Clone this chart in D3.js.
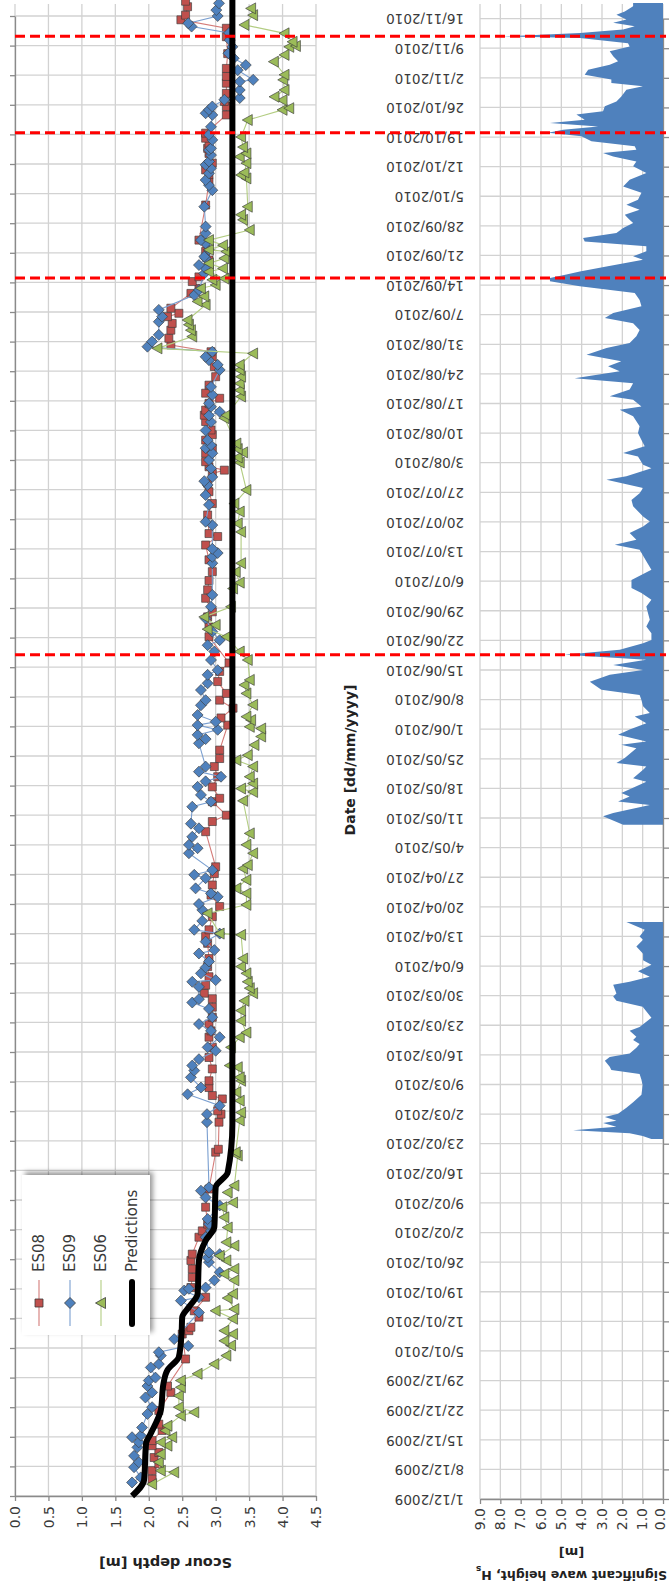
<!DOCTYPE html>
<html>
<head>
<meta charset="utf-8">
<script src="https://cdn.jsdelivr.net/npm/d3@7"></script>
<style>
    body { margin: 0; background: #fff; }
    svg { display: block; font-family: "DejaVu Sans", sans-serif; }
</style>
</head>
<body>
<svg id="chart" width="669" height="1587"></svg>
<script>
// all dates are day offsets counted from 1/12/2009
// scour series: [day, scour depth m]
var es08 = [[4,2.05],[6,2.05],[7.6,2.15],[9.1,2.08],[10.3,2.15],[11.9,2.05],[13.1,2.05],[15.5,2.2],[17,2.15],[20.2,2.15],[24.5,2.33],[26,2.28],[32.4,2.55],[38.3,2.5],[39.1,2.6],[39.9,2.63],[42.3,2.75],[43.8,2.68],[47,2.85],[49.3,2.63],[51.7,2.65],[53.7,2.65],[55.7,2.63],[57.2,2.65],[61.2,2.75],[62.7,2.8],[64.3,2.88],[68.3,2.85],[72.6,2.9],[81.3,3.0],[82,3.04],[88.4,3.05],[90.3,3.08],[91.1,3.03],[93.9,3.1],[94.7,2.95],[96.6,2.9],[98.2,2.9],[101,2.95],[103.7,2.9],[106.1,2.95],[108.5,2.9],[110,2.93],[111.6,2.9],[113.2,2.95],[115.6,2.95],[117.6,2.95],[118.9,2.83],[120.8,2.85],[122.8,2.9],[125.2,2.88],[127.1,2.9],[130.7,2.88],[132.3,2.85],[133.9,2.9],[137,2.95],[139.4,3.06],[142.1,2.93],[144.5,2.95],[147.2,2.98],[148.8,3.0],[157.1,2.85],[159.5,2.95],[161,3.16],[164.2,2.95],[165,3.06],[167.7,2.95],[170.1,3.03],[172.5,2.98],[174.4,3.06],[176.4,3.06],[182.3,3.18],[184,3.08],[186.3,3.26],[188.2,3.06],[189.8,3.16],[192.6,3.03],[195,3.06],[197,3.2],[203.2,2.9],[205.5,2.9],[207.9,2.88],[209.1,2.95],[212.3,2.85],[214.3,2.88],[216.5,2.9],[218.6,2.95],[221.4,2.9],[224.9,2.85],[226.9,3.03],[227.6,2.9],[232,2.88],[234.7,2.95],[237.5,2.9],[239.5,2.88],[241.8,2.95],[242.6,3.13],[243.4,2.9],[244.6,2.85],[246.6,2.85],[247.8,2.95],[249.7,2.85],[251,2.95],[252.1,2.93],[254.1,2.85],[255.6,2.83],[256.8,2.85],[258.4,2.9],[259.6,3.06],[260.8,2.85],[262.7,2.9],[264.7,3.0],[267.1,2.98],[269.4,2.95],[270.6,2.93],[272.2,2.33],[273.8,2.3],[275.7,2.33],[277.3,2.35],[278.9,2.28],[279.7,2.45],[280.9,2.33],[284.4,2.63],[285.6,2.75],[287.2,2.65],[288.3,2.75],[292.3,2.9],[294.3,2.85],[297,2.75],[305.3,2.85],[310.8,2.9],[312.5,2.9],[313.6,2.85],[315.2,2.95],[317.5,2.9],[318.7,2.88],[319.9,2.9],[321.1,2.85],[322.3,2.85],[326.6,3.16],[328.6,3.16],[329.8,3.13],[331.7,3.16],[334.1,3.16],[335.7,3.16],[337.6,3.16],[341.1,3.18],[345.1,3.16],[347.1,3.16],[349.1,2.48],[350.2,2.55],[352.2,2.58],[353.5,2.55]];

var es09 = [[3.2,1.75],[4.4,1.88],[6.8,1.78],[8,1.85],[9.5,1.78],[11.5,1.83],[12.7,1.85],[13.9,1.75],[14.3,1.88],[16.2,1.9],[19.4,1.98],[21,2.05],[23.3,1.95],[24.5,2.05],[26,1.98],[27.3,2.0],[28,2.1],[30.4,2.03],[31.2,2.15],[33.2,2.18],[34,2.15],[35.5,2.59],[37.1,2.38],[43.4,2.75],[46.2,2.48],[47,2.75],[48.6,2.53],[49,2.6],[49.3,2.85],[51,2.98],[52.9,3.06],[55.3,2.9],[56.4,2.88],[57.2,3.06],[57.6,2.9],[61.2,2.85],[62.7,2.93],[64.3,2.9],[65.5,2.88],[68.7,3.06],[70.6,2.85],[72.2,2.78],[73,2.9],[88.4,2.87],[90.3,2.87],[92.3,3.06],[95,2.58],[96.6,2.78],[99,2.63],[100.6,2.68],[101.8,2.65],[103.3,2.75],[105.3,3.0],[106.1,2.88],[108.5,3.06],[110,2.93],[111.6,2.75],[113.2,2.95],[115.2,2.9],[116.7,2.65],[117.5,2.75],[120.4,2.75],[121.6,2.65],[122,3.0],[123.6,2.78],[125,2.85],[126.4,2.9],[128.3,2.75],[129.1,2.98],[131.1,2.85],[133,3.06],[133.9,2.68],[136,2.8],[138.6,2.8],[140,2.75],[141.7,3.03],[142.5,2.93],[143.7,2.7],[146.1,2.85],[146.9,2.68],[148,2.95],[152,2.6],[153.2,2.73],[154,2.6],[155.9,2.65],[157.9,2.75],[159,2.63],[163,2.65],[164.2,2.93],[165.8,2.78],[167.7,2.73],[169,2.85],[170.1,3.08],[171.3,2.75],[172.5,2.85],[178,2.75],[179,2.85],[180,2.73],[181.2,3.03],[182.3,2.73],[183.1,3.0],[184.7,2.73],[187,2.78],[188.2,2.85],[190.6,2.78],[192.2,2.88],[194.2,2.88],[195.3,3.03],[197.7,2.93],[199.7,2.98],[201.2,2.88],[202.4,3.06],[204.4,2.95],[207.5,2.85],[210.3,2.93],[213.1,2.95],[220.6,2.95],[222.1,2.95],[223,3.03],[224,2.95],[229.6,2.95],[230.4,2.85],[234.4,2.9],[236.7,2.85],[239.1,2.88],[240,2.83],[241,2.95],[243,2.93],[245,2.9],[246.6,2.95],[247.8,2.85],[248.5,2.93],[249.7,2.88],[252,2.85],[254,2.93],[255.5,2.9],[256.4,3.06],[257.6,2.93],[258.4,2.9],[260.4,2.95],[262.3,2.93],[266.3,3.06],[267.5,3.03],[268.6,2.9],[269.4,2.85],[270.6,2.95],[271.8,1.98],[273,2.05],[274.6,2.15],[277.7,2.15],[278.9,2.2],[280.5,2.15],[284,2.68],[285.2,2.75],[289.1,2.83],[290.3,2.85],[291.1,2.75],[292.7,2.85],[293.1,2.83],[294.7,2.9],[296.2,2.85],[297,2.78],[298.6,2.85],[300.2,2.85],[304.9,2.83],[308.8,2.95],[310,2.9],[311.2,2.85],[312.8,2.9],[314,2.93],[314.8,2.85],[315.6,2.9],[317.1,2.93],[318.3,2.9],[318.7,2.93],[320.7,2.95],[321.9,2.9],[323.8,2.93],[326.6,2.95],[327,2.85],[327.8,2.9],[328.6,2.95],[330.2,3.13],[330.6,3.36],[332.5,3.36],[334.5,3.36],[334.9,3.56],[337.2,3.33],[338.4,3.45],[340,3.27],[341.2,3.19],[342.7,3.25],[344.3,3.21],[346,3.2],[347.5,2.64],[348.3,2.59],[350,3.03],[351.4,3.01],[353,3.05]];

var es06 = [[2.8,2.05],[5.6,2.38],[6,2.18],[8,2.15],[9.9,2.18],[11.9,2.28],[12.7,2.18],[13.9,2.35],[15.5,2.25],[16.6,2.28],[19,2.48],[19.8,2.68],[21,2.45],[23.7,2.45],[25.7,2.48],[27.3,2.48],[28.9,2.73],[31.2,2.98],[33.2,3.16],[35.6,3.23],[36.7,3.13],[38.3,3.26],[39.1,3.13],[41.9,3.26],[43.8,3.0],[44.2,3.28],[46.8,3.18],[47.8,3.26],[51,3.28],[52.5,3.13],[53.7,3.28],[55.7,3.16],[56.8,3.06],[59.2,3.28],[60,3.16],[63.5,3.18],[65.9,3.13],[68.3,3.1],[69.4,3.26],[71.8,3.18],[73.4,3.28],[80.5,3.33],[81.3,3.3],[88.8,3.36],[90.7,3.38],[93.5,3.36],[95.5,3.31],[98.2,3.38],[99,3.36],[101.4,3.33],[101.8,3.21],[106.1,3.23],[108.5,3.36],[109.6,3.46],[112.4,3.38],[114.8,3.38],[117.1,3.43],[118.9,3.56],[120.1,3.51],[121.6,3.48],[123.6,3.46],[125.2,3.38],[127.1,3.41],[132.7,3.38],[133,3.06],[137.8,2.88],[139.8,3.46],[142.5,3.46],[143.7,3.31],[145.7,3.46],[148.4,3.41],[149.2,3.48],[152,3.56],[154,3.46],[156.7,3.51],[164.4,3.41],[166.5,3.56],[167.3,3.38],[168.5,3.56],[170.1,3.51],[172.5,3.56],[174,3.31],[175.2,3.48],[177.6,3.58],[179.6,3.68],[181.5,3.68],[181.9,3.51],[183.5,3.53],[184.3,3.46],[187.1,3.56],[189.8,3.46],[191.8,3.43],[193,3.51],[197.7,3.48],[199.7,3.36],[203.2,3.16],[205,2.88],[206,3.0],[207.9,2.83],[210.3,3.23],[214.6,3.26],[216,3.36],[218.5,3.3],[220.6,3.38],[228,3.38],[230,3.33],[232.8,3.36],[234.7,3.28],[237.9,3.46],[244.4,3.36],[245.6,3.33],[246.8,3.41],[247.6,3.33],[248.9,3.31],[254.9,3.13],[255.6,3.16],[260,3.38],[261.5,3.36],[263.1,3.36],[264.7,3.38],[266.3,3.36],[267.5,3.36],[270.2,3.56],[271.4,2.13],[274.2,2.65],[275.7,2.63],[277,2.6],[278.1,2.58],[281.7,2.85],[282.5,2.73],[283.7,2.83],[285.6,2.78],[286.4,3.0],[287.6,2.95],[287.9,3.13],[289.5,2.9],[290.3,3.11],[291.5,2.9],[292.7,3.13],[294.3,3.16],[294.7,2.9],[295.8,3.11],[297,2.9],[299.4,3.51],[301.8,3.41],[303,3.38],[304.9,3.48],[311.6,3.46],[312.4,3.38],[313,3.43],[315.2,3.46],[316.7,3.36],[317.5,3.46],[319,3.41],[321.4,3.38],[325.4,3.48],[327.8,4.0],[328.2,4.1],[330.1,4.0],[330.9,3.88],[332.5,4.03],[334.9,4.01],[336.1,4.03],[339.2,3.87],[340.8,4.03],[342.7,4.1],[342.9,4.2],[343.9,4.15],[345.9,4.03],[347.9,3.43],[350.2,3.56],[351.8,3.53]];

var predictions = [[0,1.75],[3.8,1.93],[12.5,1.96],[14.8,2.03],[20.3,2.18],[26.6,2.22],[29.8,2.28],[32.9,2.45],[38.4,2.49],[42.3,2.5],[44.7,2.6],[47.8,2.73],[55.7,2.75],[60.4,2.85],[63.6,2.98],[73,3.0],[76.5,3.18],[88,3.25],[354,3.25]];

// significant wave height Hs: [day, m], two recorded periods
var waveA = [[85.1,0.57],[85.8,1.0],[86.5,1.64],[87.2,4.42],[88,2.29],[88.9,2.95],[89.4,2.29],[90.3,2.86],[91.1,2.21],[92.5,1.8],[93.8,1.47],[95.6,1.06],[97.8,1.0],[99.1,1.06],[100.5,1.15],[101.4,2.54],[102.2,2.62],[103.6,2.86],[104.5,2.62],[105.3,1.64],[106.7,1.31],[107.6,1.15],[108.5,1.47],[109.3,1.31],[110.7,1.64],[111.6,1.15],[113.8,0.57],[116.4,1.0],[117.8,2.29],[118.8,2.45],[119.5,2.29],[121.6,2.45],[122.3,1.64],[123.5,0.65],[124.8,1.23],[126.3,0.57],[127.4,0.98],[128.9,0.98],[130.6,1.31],[132.2,0.98],[133,1.15],[134.6,0.9],[136.4,1.8]];

var waveB = [[159.4,1.96],[161.4,2.95],[162.2,2.45],[164.1,0.65],[164.9,2.21],[166.1,1.64],[166.9,2.05],[168.5,1.31],[169.6,0.82],[170.4,1.47],[172.4,0.98],[173.2,0.82],[174,2.29],[175.2,1.88],[177.5,1.31],[178.3,2.05],[179.1,0.82],[180.7,2.21],[181.9,1.64],[183.4,0.82],[185,1.39],[185.8,0.65],[187.4,0.98],[188.9,1.06],[190.1,1.15],[191.3,3.03],[193.2,3.6],[194.9,2.62],[196,0.98],[197.2,2.45],[198.4,0.82],[199.6,4.83],[200.8,2.13],[202.3,0.98],[203.1,0.57],[204.7,0.57],[206.3,0.82],[207.9,0.65],[209.5,0.74],[211,0.82],[212.6,0.57],[214.2,1.06],[215.4,1.55],[217.3,1.55],[219.7,0.57],[221.7,0.82],[224.4,1.15],[225.6,2.37],[226.8,1.31],[228.4,1.64],[229.9,0.98],[231.1,0.65],[232.3,0.98],[234.7,1.47],[236.2,1.55],[237.8,1.15],[239,0.98],[241,2.78],[241.8,1.8],[243.7,0.57],[244.5,0.98],[246.5,1.23],[247.3,1.96],[248.9,0.9],[250.4,1.06],[252,1.23],[253.6,1.15],[256,1.47],[257.5,2.13],[258.3,1.06],[259.9,1.47],[260.7,2.62],[262.3,1.64],[263.8,1.47],[265,4.34],[266.6,2.13],[267.8,2.7],[269,2.05],[270.5,3.76],[272.1,2.78],[273.3,1.64],[274.9,1.31],[276.4,1.15],[278,1.47],[279.2,2.86],[280.4,2.45],[282,1.06],[283.5,1.15],[285.1,1.39],[286.7,4.09],[287.9,5.56],[288.7,5.56],[289.5,4.75],[290.2,4.09],[291.4,2.78],[293,0.98],[293.8,1.47],[295,0.82],[296.2,0.82],[297.3,3.85],[298.1,3.93],[299.3,2.29],[300.5,1.96],[301.7,1.47],[302.8,1.72],[303.6,1.88],[304.8,1.15],[306,1.8],[307.2,1.23],[308.8,1.06],[310.3,1.96],[311.9,1.64],[313.5,0.82],[315.1,1.47],[316.2,1.31],[317.4,2.45],[318.2,2.95],[319,1.31],[319.8,1.39],[321,3.52],[322.2,4.01],[323,5.65],[323.7,4.91],[324.5,3.19],[325.3,5.56],[326.1,3.85],[327.3,4.26],[328.1,2.95],[329.3,2.86],[330.4,2.29],[331.6,2.05],[333.2,1.8],[334,0.98],[334.8,2.54],[335.6,2.54],[336.7,3.85],[337.9,3.68],[339.1,2.62],[339.9,2.21],[341.1,2.45],[342.3,2.62],[343.4,1.64],[344.2,1.72],[345.4,4.09],[345.8,7.86],[346.6,4.09],[347.4,1.96],[348.2,1.39],[349,2.45],[349.8,1.8],[350.9,2.29],[351.7,1.88],[352.9,1.47],[353.7,1.47]];

// storm events marked with red dashed lines
var stormDays = [199.6, 288.7, 323.0, 345.8];

var depthTicks = d3.range(0, 4.51, 0.5);
var waveTicks = d3.range(0, 9.01, 1);
var weekDays = d3.range(0, 351, 7);

var t0 = Date.UTC(2009, 11, 1);
function day(d) { return new Date(t0 + d * 864e5); }
var weeks = weekDays.map(day);

var svg = d3.select("#chart");
var topY = 4;

var xScour = d3.scaleLinear().domain([0, 4.5]).range([15, 316]);
var yScour = d3.scaleUtc().domain([day(0), day(350)]).range([1496, 16]);
var xWave = d3.scaleLinear().domain([0, 9]).range([663, 480]);
var yWave = d3.scaleUtc().domain([day(0), day(350)]).range([1499, 18.6]);

var defs = svg.append("defs");
defs.append("filter").attr("id", "shadow")
    .attr("x", "-20%").attr("y", "-20%").attr("width", "140%").attr("height", "140%")
    .append("feDropShadow")
    .attr("dx", 3).attr("dy", -3).attr("stdDeviation", 2.5)
    .attr("flood-color", "#000").attr("flood-opacity", 0.4);

//gridlines for both panels
var grid = svg.append("g").attr("stroke", "#d2d2d2").attr("stroke-width", 1.3);
grid.selectAll(".gsv").data(depthTicks).join("line").attr("class", "gsv")
    .attr("x1", d => xScour(d)).attr("x2", d => xScour(d))
    .attr("y1", topY).attr("y2", yScour(day(0)));
grid.selectAll(".gsh").data(weeks).join("line").attr("class", "gsh")
    .attr("x1", xScour(0)).attr("x2", xScour(4.5))
    .attr("y1", d => yScour(d)).attr("y2", d => yScour(d));
grid.selectAll(".gwv").data(waveTicks).join("line").attr("class", "gwv")
    .attr("x1", d => xWave(d)).attr("x2", d => xWave(d))
    .attr("y1", topY).attr("y2", yWave(day(0)));
grid.selectAll(".gwh").data(weeks).join("line").attr("class", "gwh")
    .attr("x1", xWave(9)).attr("x2", xWave(0))
    .attr("y1", d => yWave(d)).attr("y2", d => yWave(d));

//axes with tick marks
function styleAxis(g) {
    g.attr("font-family", null).attr("font-size", 14);
    g.selectAll("path, line").attr("stroke", "#8a8a8a").attr("stroke-width", 1.3);
    g.selectAll("text").attr("fill", "#3a3a3a");
}

svg.append("g").attr("transform", "translate(" + xScour(0) + ",0)")
    .call(d3.axisLeft(yScour).tickValues(weeks).tickSize(5).tickFormat("").tickSizeOuter(0))
    .call(styleAxis);

svg.append("g").attr("transform", "translate(0," + yScour(day(0)) + ")")
    .call(d3.axisBottom(xScour).tickValues(depthTicks).tickSize(5).tickSizeOuter(0).tickFormat(d3.format(".1f")))
    .call(styleAxis)
    .selectAll("text")
    .attr("transform", "rotate(-90)").attr("x", -10).attr("y", 0)
    .attr("dy", "0.35em").attr("text-anchor", "end");

svg.append("g").attr("transform", "translate(" + xWave(0) + ",0)")
    .call(d3.axisRight(yWave).tickValues(weeks).tickSize(6).tickFormat("").tickSizeOuter(0))
    .call(styleAxis);

svg.append("g").attr("transform", "translate(0," + yWave(day(0)) + ")")
    .call(d3.axisBottom(xWave).tickValues(waveTicks).tickSize(5).tickSizeOuter(0).tickFormat(d3.format(".1f")))
    .call(styleAxis)
    .selectAll("text")
    .attr("transform", "rotate(-90)").attr("x", -9).attr("y", 0)
    .attr("dy", d => d === 0 ? "0.1em" : "0.3em").attr("text-anchor", "end");

//date labels, upside down, sitting left of the wave panel
var dateAxis = svg.append("g").attr("transform", "translate(464,0)")
    .call(d3.axisLeft(yWave).tickValues(weeks).tickSize(0).tickFormat(d3.utcFormat("%-d/%m/%Y")))
    .call(styleAxis);
dateAxis.attr("font-size", 13.5);
dateAxis.select(".domain").remove();
dateAxis.selectAll("text")
    .attr("x", 0).attr("dy", "0.35em")
    .attr("transform", "rotate(180)").attr("text-anchor", "start");

//wave height area
var waveArea = d3.area()
    .y(d => yWave(day(d[0])))
    .x0(xWave(0))
    .x1(d => xWave(d[1]));
svg.selectAll(".wave").data([waveA, waveB]).join("path").attr("class", "wave")
    .attr("d", waveArea)
    .attr("fill", "#4f81bd");

//scour series
var scourLine = d3.line()
    .x(d => xScour(d[1]))
    .y(d => yScour(day(d[0])));

var squarePath = "M-4,-4H4V4H-4Z";
var diamondPath = "M0,-5.5L5.5,0L0,5.5L-5.5,0Z";
var trianglePath = "M-5.5,0L4.5,-5.5L4.5,5.5Z";

var series = [
    { name: "ES08", data: es08, color: "#c0504d", line: "#d47b78", marker: squarePath },
    { name: "ES09", data: es09, color: "#4f81bd", line: "#7a9fd0", marker: diamondPath },
    { name: "ES06", data: es06, color: "#9bbb59", line: "#b3cd82", marker: trianglePath }
];

series.forEach(function (s) {
    var g = svg.append("g");
    g.append("path")
        .attr("d", scourLine(s.data))
        .attr("fill", "none")
        .attr("stroke", s.line)
        .attr("stroke-width", 1.1);
    g.selectAll("path.pt").data(s.data).join("path").attr("class", "pt")
        .attr("transform", d => "translate(" + xScour(d[1]) + "," + yScour(day(d[0])) + ")")
        .attr("d", s.marker)
        .attr("fill", s.color)
        .attr("stroke", "#3b3b3b")
        .attr("stroke-opacity", 0.8)
        .attr("stroke-width", 0.8);
});

var predLine = d3.line()
    .x(d => xScour(d[1]))
    .y(d => yScour(day(d[0])))
    .curve(d3.curveMonotoneY);
svg.append("path")
    .attr("d", predLine(predictions))
    .attr("fill", "none")
    .attr("stroke", "#000")
    .attr("stroke-width", 6);

//storm markers
svg.selectAll(".storm").data(stormDays).join("line").attr("class", "storm")
    .attr("x1", 15).attr("x2", 666)
    .attr("y1", d => yWave(day(d))).attr("y2", d => yWave(day(d)))
    .attr("stroke", "#ff0000")
    .attr("stroke-width", 3)
    .attr("stroke-dasharray", "10,5");

//legend
var legend = svg.append("g");
legend.append("rect")
    .attr("x", 22).attr("y", 1175).attr("width", 128).attr("height", 160)
    .attr("fill", "#fff")
    .attr("filter", "url(#shadow)");

var legendItems = series.concat([{ name: "Predictions", color: "#000" }]);
var legendX = d3.scalePoint().domain(legendItems.map(d => d.name)).range([39, 132]);

legendItems.forEach(function (s) {
    var lx = legendX(s.name);
    if (s.marker) {
        legend.append("line")
            .attr("x1", lx).attr("x2", lx).attr("y1", 1280).attr("y2", 1326)
            .attr("stroke", s.line).attr("stroke-width", 1.1);
        legend.append("path")
            .attr("transform", "translate(" + lx + ",1303)")
            .attr("d", s.marker)
            .attr("fill", s.color)
            .attr("stroke", "#3b3b3b").attr("stroke-width", 0.8);
    } else {
        legend.append("line")
            .attr("x1", lx).attr("x2", lx).attr("y1", 1282).attr("y2", 1324)
            .attr("stroke", "#000").attr("stroke-width", 6).attr("stroke-linecap", "round");
    }
    legend.append("text")
        .attr("transform", "translate(" + lx + ",1272) rotate(-90)")
        .attr("dy", "0.35em")
        .attr("font-size", 15)
        .attr("fill", "#3a3a3a")
        .text(s.name);
});

//axis titles
svg.append("text")
    .attr("transform", "translate(350,760) rotate(-90)")
    .attr("text-anchor", "middle").attr("dy", "0.35em")
    .attr("font-size", 14).attr("font-weight", "bold").attr("fill", "#222")
    .text("Date [dd/mm/yyyy]");

svg.append("text")
    .attr("transform", "translate(" + xScour(2.25) + ",1563) rotate(180)")
    .attr("text-anchor", "middle").attr("dy", "0.35em")
    .attr("font-size", 14.5).attr("font-weight", "bold").attr("fill", "#222")
    .text("Scour depth [m]");

svg.append("text")
    .attr("transform", "translate(" + xWave(4.5) + ",1553) rotate(180)")
    .attr("text-anchor", "middle").attr("dy", "0.35em")
    .attr("font-size", 13).attr("font-weight", "bold").attr("fill", "#222")
    .text("[m]");

var hsTitle = svg.append("text")
    .attr("transform", "translate(" + xWave(4.5) + ",1575) rotate(180)")
    .attr("text-anchor", "middle").attr("dy", "0.35em")
    .attr("font-size", 12.5).attr("font-weight", "bold").attr("fill", "#222");
hsTitle.append("tspan").text("Significant wave height, H");
hsTitle.append("tspan").attr("baseline-shift", "sub").attr("font-size", 9).text("s");
</script>
</body>
</html>
